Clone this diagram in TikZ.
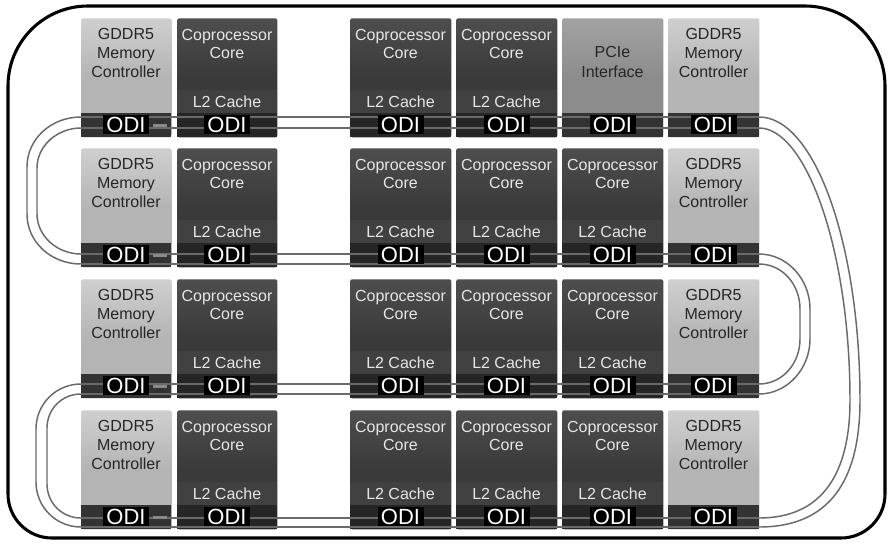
\documentclass[tikz,border=0pt]{standalone}
\usepackage{fontspec}
\setmainfont{Liberation Sans}
\definecolor{gddrfill}{HTML}{B4B4B4}
\definecolor{gddrtop}{HTML}{CFCFCF}
\definecolor{copfill}{HTML}{3A3A3A}
\definecolor{coptop}{HTML}{4E4E4E}
\definecolor{cachecol}{HTML}{414141}
\definecolor{pcifill}{HTML}{8C8C8C}
\definecolor{pcitop}{HTML}{A2A2A2}
\definecolor{bandg}{HTML}{333333}
\definecolor{bandc}{HTML}{262626}
\definecolor{buscol}{HTML}{6A6A6A}
\definecolor{coptext}{HTML}{E6E6E6}
\definecolor{gtext}{HTML}{262626}
\definecolor{dashcol}{HTML}{8A8A8A}
\begin{document}
\begin{tikzpicture}[x=0.75pt,y=-0.75pt,
  blk/.style={rectangle, inner sep=0pt, minimum height=89.25pt, anchor=north west, rounded corners=1.5pt},
  blkg/.style={blk, top color=gddrtop, bottom color=gddrfill, middle color=gddrfill},
  blkc/.style={blk, top color=coptop, bottom color=copfill, middle color=copfill},
  blkp/.style={blk, top color=pcitop, bottom color=pcifill, middle color=pcifill},
  dtxt/.style={text=gtext, align=center, font=\fontsize{12}{13.9}\selectfont, inner sep=0pt},
  ptxt/.style={dtxt, font=\fontsize{12}{15}\selectfont},
  ltxt/.style={dtxt, text=coptext},
  odi/.style={fill=black, text=white, font=\fontsize{16.5}{16.5}\selectfont, inner sep=0pt, minimum width=34.5pt, minimum height=14.25pt},
  bus/.style={draw=buscol, line width=1.1pt},
  frame/.style={draw=black, line width=2.3pt}]
\useasboundingbox (0,0) rectangle (889,543);
\fill[white] (0,0) rectangle (889,543);

% blocks
\foreach \r/\t in {1/18,2/148,3/279,4/410}{
  \foreach \c/\l/\w/\kk in {1/81/90/g,2/177/100/c,3/350/101/c,4/456/101/c,5/562/101/c,6/668/91/g}{
    \def\k{\kk}
    \ifnum\r=1 \ifnum\c=5 \def\k{p}\fi\fi
    \pgfmathsetmacro\ww{\w*0.75}
    \pgfmathsetmacro\cx{\l+\w/2}
    \pgfmathsetmacro\bb{\t+119}
    \if g\k
      \node[blkg, minimum width=\ww pt] (b\r\c) at (\l,\t) {};
      \fill[bandg] (\l,\bb-24) rectangle (\l+\w,\bb);
      \node[dtxt] (t\r\c) at (\cx,\t+35) {GDDR5\\Memory\\Controller};
    \fi
    \if c\k
      \node[blkc, minimum width=\ww pt] (b\r\c) at (\l,\t) {};
      \fill[cachecol] (\l,\t+72) rectangle (\l+\w,\bb-24);
      \fill[bandc] (\l,\bb-24) rectangle (\l+\w,\bb);
      \node[ltxt] (t\r\c) at (\cx,\t+26) {Coprocessor\\Core};
      \node[ltxt] (l\r\c) at (\cx,\t+84) {L2 Cache};
    \fi
    \if p\k
      \node[blkp, minimum width=\ww pt] (b\r\c) at (\l,\t) {};
      \fill[bandg] (\l,\bb-24) rectangle (\l+\w,\bb);
      \node[ptxt] (t\r\c) at (\cx,\t+44) {PCIe\\Interface};
    \fi
  }
}

% bus end points
\foreach \r/\u/\d in {1/117/128,2/254/264,3/384/394,4/518/527}{
  \coordinate (r\r ul) at (81,\u);
  \coordinate (r\r ur) at (759,\u);
  \coordinate (r\r dl) at (81,\d);
  \coordinate (r\r dr) at (759,\d);
}
\foreach \r in {1,2,3,4}{
  \draw[bus] (r\r ul) -- (r\r ur);
  \draw[bus] (r\r dl) -- (r\r dr);
}

% small dashes in left controllers
\foreach \r/\t in {1/18,2/148,3/279,4/410}{
  \fill[dashcol] (153,\t+106) rectangle (167,\t+109);
}

% ODI labels
\foreach \r/\t in {1/18,2/148,3/279,4/410}{
  \foreach \c/\l/\w in {1/81/90,2/177/100,3/350/101,4/456/101,5/562/101,6/668/91}{
    \pgfmathsetmacro\cx{\l+\w/2}
    \node[odi] (o\r\c) at (\cx,\t+106.5) {ODI};
  }
}

% loops
\draw[bus] (r1ul) .. controls (51,117) and (27,139) .. (27,167) -- (27,214)
           .. controls (27,242) and (51,264) .. (r2dl);
\draw[bus] (r1dl) .. controls (57,128) and (37,146) .. (37,168) -- (37,214)
           .. controls (37,236) and (57,254) .. (r2ul);
\draw[bus] (r2ur) .. controls (787,254) and (810,279) .. (810,309) -- (810,339)
           .. controls (810,369) and (787,394) .. (r3dr);
\draw[bus] (r2dr) .. controls (782,264) and (800,284) .. (800,309) -- (800,339)
           .. controls (800,364) and (782,384) .. (r3ur);
\draw[bus] (r3ul) .. controls (56,384) and (36,404) .. (36,429) -- (36,482)
           .. controls (36,507) and (56,527) .. (r4dl);
\draw[bus] (r3dl) .. controls (62,394) and (47,409) .. (47,428) -- (47,484)
           .. controls (47,503) and (62,518) .. (r4ul);
\draw[bus] (r1ur) .. controls (815,117) and (860,245) .. (860,400)
           .. controls (860,480) and (830,527) .. (r4dr);
\draw[bus] (r1dr) .. controls (806,128) and (850,250) .. (850,400)
           .. controls (850,474) and (822,518) .. (r4ur);

% outer frame
\draw[frame] (8,300) [rounded corners=60pt] -- (8,6) -- (885,6) -- (885,300)
   [rounded corners=33pt] -- (885,538) -- (8,538) -- cycle;
\end{tikzpicture}
\end{document}
